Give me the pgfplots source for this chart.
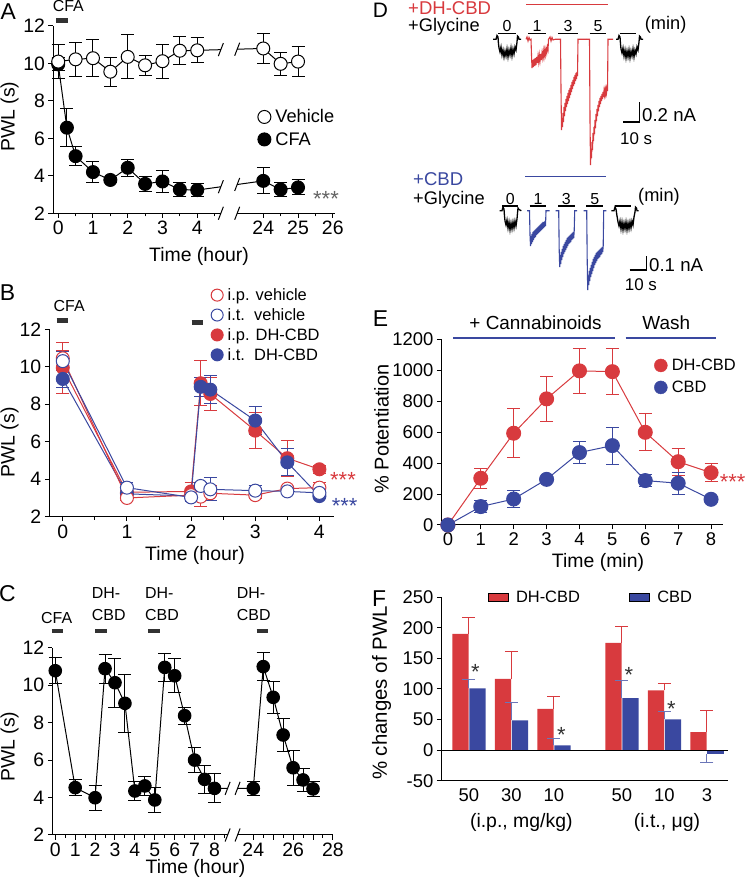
\documentclass[border=0pt]{standalone}
\usepackage{fontspec}
\setmainfont{Liberation Sans}
\usepackage{pgfplots}
\usepackage{pgfplotstable}
\pgfplotsset{compat=1.18}

\definecolor{cred}{RGB}{216,58,62}
\definecolor{cblue}{RGB}{58,72,160}
\definecolor{sgrey}{RGB}{100,100,100}
\definecolor{dgrey}{RGB}{50,50,50}
\newcommand\fs[1]{\fontsize{#1}{#1}\selectfont}

\pgfplotsset{
  panel/.style={
    scale only axis, axis lines=left, axis line style={-, line width=1bp},
    tick align=outside, major tick length=4.5bp, minor tick length=3bp,
    tick style={black, line width=1bp},
    tick label style={font=\fs{19.5}},
    /pgf/number format/assume math mode=true,
    /pgf/number format/1000 sep={},
    enlargelimits=false, clip=false,
    legend cell align=left,
    legend style={draw=none, fill=none, inner sep=0pt, row sep=5bp,
      nodes={inner sep=1.5bp},
      /tikz/every odd column/.append style={column sep=3bp}},
    legend image code/.code={\draw[##1] plot coordinates {(0bp,0bp)};},
  },
  % a plot that draws only the error bars (drawn first, so markers cover them)
  eonly/.style={forget plot, only marks, mark=none,
    error bars/.cd, y dir=both, y explicit,
    error bar style={line width=1bp, solid},
    error mark options={rotate=90, line width=1bp, mark size=#1}},
  eonly/.default=6.5bp,
  bfix/.style n args={2}{error bars/.cd, y dir=#2, y explicit,
    error bar style={#1, line width=1bp},
    error mark options={#1, rotate=90, line width=1bp, mark size=6.5bp}},
}

% ---------- panel A ----------
\pgfplotstableread{
t     y     e
0     10.10 0.90
0.5   10.22 0.90
1     10.28 1.00
1.5   9.56  0.77
2     10.35 1.18
2.5   9.90  0.55
3     10.12 0.90
3.5   10.68 0.74
4     10.70 0.66
24    10.80 0.80
24.5  9.98  0.60
25    10.10 0.80
}\Aveh
\pgfplotstableread{
t     y     e
0     9.95  0.35
0.25  6.57  1.03
0.5   5.05  0.50
1     4.20  0.56
1.5   3.78  0.10
2     4.43  0.45
2.5   3.57  0.40
3     3.70  0.58
3.5   3.27  0.38
4     3.24  0.35
24    3.73  0.70
24.5  3.27  0.40
25    3.38  0.40
}\Acfa

% ---------- panel B ----------
\pgfplotstableread{
t     y     e
0     9.95  1.35
1     3.30  0.20
2     3.35  0.50
2.15  9.12  1.20
2.3   8.55  0.90
3     6.59  0.95
3.5   5.12  0.95
4     4.53  0.20
}\Bipcbd
\pgfplotstableread{
t     y     e
0     9.35  0.45
1     3.22  0.20
2     3.10  0.20
2.15  8.93  0.50
2.3   8.78  0.75
3     7.13  0.75
3.5   4.90  0.72
4     3.10  0.10
}\Bitcbd
\pgfplotstableread{
t     y     e
0     10.45 0.40
1     3.00  0.15
2     3.15  0.30
2.15  3.07  0.55
2.3   3.25  0.40
3     3.15  0.20
3.5   3.50  0.10
4     3.55  0.25
}\Bipveh
\pgfplotstableread{
t     y     e
0     10.30 0.50
1     3.55  0.28
2     3.03  0.20
2.15  3.64  0.20
2.3   3.46  0.62
3     3.39  0.30
3.5   3.35  0.10
4     3.27  0.15
}\Bitveh

% ---------- panel C ----------
\pgfplotstableread{
t     y     e
0     10.77 0.70
1     4.53  0.42
2     3.99  0.66
2.5   10.88 0.78
3     10.13 1.30
3.5   9.03  1.55
4     4.35  0.49
4.5   4.62  0.50
5     3.87  0.65
5.5   10.95 0.76
6     10.50 0.90
6.5   8.37  0.45
7     6.00  0.66
7.5   4.97  0.76
8     4.49  0.78
24    4.49  0.36
24.5  10.99 0.76
25    9.35  0.87
25.5  7.34  0.87
26    5.59  0.93
26.5  4.94  0.60
27    4.46  0.40
}\Cdata

% ---------- panel E ----------
\pgfplotstableread{
t  y    e
0  0    0
1  302  65
2  593  160
3  815  143
4  996  147
5  991  147
6  599  120
7  409  88
8  338  60
}\Edh
\pgfplotstableread{
t  y    e
0  0    0
1  119  40
2  168  54
3  295  10
4  468  70
5  513  120
6  287  40
7  270  72
8  166  10
}\Ecbd

% ---------- panel F ----------
\pgfplotstableread{
x    y      e
0    190.3  26
1    116.7  45
2    67.6   20
3.6  175.6  27
4.6  97.6   11.5
5.6  29.4   36
}\Fdh
\pgfplotstableread{
x    y      e
0    100.9  15
1    48.5   30
2    7.6    12
3.6  85.0   29.5
4.6  50.2   13.6
}\Fcbd
\pgfplotstableread{
x    y      e
5.6  -7.1   13.6
}\Fcbdneg

\begin{document}
\begin{tikzpicture}
\useasboundingbox (0,0) rectangle (746bp,889bp);

% ================= A =================
\begin{axis}[panel, at={(53bp,675.7bp)}, anchor=south west, width=281.5bp, height=187.3bp,
  xmin=-0.15, xmax=7.95, ymin=2, ymax=12, ytick={2,4,...,12},
  xtick={0,1,2,3,4,5.9,6.9,7.9}, xticklabels={0,1,2,3,4,24,25,26},
  minor xtick={0.5,1.5,2.5,3.5,4.5,6.4,7.4},
  x axis line style={draw=none},
  legend style={font=\fs{18.3}, at={(axis cs:5.74,6.55)}, anchor=west}]
\addplot[black, eonly]
  table[x expr={ifthenelse(\thisrow{t}>20,\thisrow{t}-18.1,\thisrow{t})}, y=y, y error=e] \Acfa;
\addplot[forget plot, black, line width=1bp, mark=*, mark size=6.5bp]
  table[x expr={ifthenelse(\thisrow{t}>20,\thisrow{t}-18.1,\thisrow{t})}, y=y] \Acfa;
\addplot[black, eonly]
  table[x expr={ifthenelse(\thisrow{t}>20,\thisrow{t}-18.1,\thisrow{t})}, y=y, y error=e] \Aveh;
\addplot[forget plot, black, line width=1bp, mark=*, mark size=6.5bp, mark options={fill=white}]
  table[x expr={ifthenelse(\thisrow{t}>20,\thisrow{t}-18.1,\thisrow{t})}, y=y] \Aveh;
\fill[white] (axis cs:4.68,2.1) rectangle (axis cs:5.15,12.2);
\draw[line width=1bp] (axis cs:-0.15,2) -- (axis cs:4.68,2);
\draw[line width=1bp] (axis cs:5.15,2) -- (axis cs:7.95,2);
\draw[line width=1bp] (axis cs:4.68,2) ++(-2.5bp,-6.5bp) -- ++(5bp,13bp);
\draw[line width=1bp] (axis cs:5.15,2) ++(-2.5bp,-6.5bp) -- ++(5bp,13bp);
\draw[line width=1bp] (axis cs:4.68,10.74) ++(-2.5bp,-6.5bp) -- ++(5bp,13bp);
\draw[line width=1bp] (axis cs:5.15,10.76) ++(-2.5bp,-6.5bp) -- ++(5bp,13bp);
\draw[line width=1bp] (axis cs:4.68,3.42) ++(-2.5bp,-6.5bp) -- ++(5bp,13bp);
\draw[line width=1bp] (axis cs:5.15,3.54) ++(-2.5bp,-6.5bp) -- ++(5bp,13bp);
\addlegendimage{black, line width=1bp, mark=*, mark size=6.5bp, mark options={fill=white}}
\addlegendentry{Vehicle}
\addlegendimage{black, line width=1bp, mark=*, mark size=6.5bp}
\addlegendentry{CFA}
\end{axis}

% ================= B =================
\begin{axis}[panel, at={(49.3bp,372.3bp)}, anchor=south west, width=284.2bp, height=187.4bp,
  xmin=-0.21, xmax=4.22, ymin=2, ymax=12, ytick={2,4,...,12},
  xtick={0,1,2,3,4}, minor xtick={0.5,1.5,2.5,3.5},
  legend style={font=\fs{16.5}, at={(axis cs:2.31,12.23)}, anchor=west, row sep=3.5bp}]
\addplot[cred, eonly] table[x=t, y=y, y error=e] \Bipcbd;
\addplot[forget plot, cred, line width=1bp, mark=*, mark size=6.5bp] table[x=t, y=y] \Bipcbd;
\addplot[cblue, eonly] table[x=t, y=y, y error=e] \Bitcbd;
\addplot[forget plot, cblue, line width=1bp, mark=*, mark size=6.5bp] table[x=t, y=y] \Bitcbd;
\addplot[cred, eonly] table[x=t, y=y, y error=e] \Bipveh;
\addplot[forget plot, cred, line width=1bp, mark=*, mark size=6.5bp, mark options={fill=white}] table[x=t, y=y] \Bipveh;
\addplot[cblue, eonly] table[x=t, y=y, y error=e] \Bitveh;
\addplot[forget plot, cblue, line width=1bp, mark=*, mark size=6.5bp, mark options={fill=white}] table[x=t, y=y] \Bitveh;
\addlegendimage{cred, line width=1bp, mark=*, mark size=6bp, mark options={fill=white}}
\addlegendentry{i.p. vehicle}
\addlegendimage{cblue, line width=1bp, mark=*, mark size=6bp, mark options={fill=white}}
\addlegendentry{i.t.\ \ vehicle}
\addlegendimage{cred, line width=1bp, mark=*, mark size=6bp}
\addlegendentry{i.p. DH-CBD}
\addlegendimage{cblue, line width=1bp, mark=*, mark size=6bp}
\addlegendentry{i.t.\ \ DH-CBD}
\end{axis}

% ================= C =================
\begin{axis}[panel, at={(52.3bp,54bp)}, anchor=south west, width=280.6bp, height=187.3bp,
  xmin=-0.15, xmax=13.95, ymin=2, ymax=12, ytick={2,4,...,12},
  xtick={0,1,2,3,4,5,6,7,8,9.95,10.95,11.95,12.95,13.95},
  xticklabels={0,1,2,3,4,5,6,7,8,24,,26,,28},
  minor xtick={0.5,1.5,2.5,3.5,4.5,5.5,6.5,7.5,8.5,10.45,11.45,12.45,13.45},
  x axis line style={draw=none}]
\addplot[black, eonly]
  table[x expr={ifthenelse(\thisrow{t}>20,\thisrow{t}-14.05,\thisrow{t})}, y=y, y error=e] \Cdata;
\addplot[black, line width=1bp, mark=*, mark size=6.3bp]
  table[x expr={ifthenelse(\thisrow{t}>20,\thisrow{t}-14.05,\thisrow{t})}, y=y] \Cdata;
\fill[white] (axis cs:8.66,2.1) rectangle (axis cs:9.16,12.2);
\draw[line width=1bp] (axis cs:-0.15,2) -- (axis cs:8.66,2);
\draw[line width=1bp] (axis cs:9.16,2) -- (axis cs:13.95,2);
\draw[line width=1bp] (axis cs:8.66,2) ++(-2.5bp,-6.5bp) -- ++(5bp,13bp);
\draw[line width=1bp] (axis cs:9.16,2) ++(-2.5bp,-6.5bp) -- ++(5bp,13bp);
\draw[line width=1bp] (axis cs:8.66,4.49) ++(-2.5bp,-6.5bp) -- ++(5bp,13bp);
\draw[line width=1bp] (axis cs:9.16,4.49) ++(-2.5bp,-6.5bp) -- ++(5bp,13bp);
\end{axis}

% ================= E =================
\begin{axis}[panel, at={(441.3bp,364bp)}, anchor=south west, width=281.6bp, height=185.7bp,
  xmin=-0.2, xmax=8.36, ymin=0, ymax=1200, ytick={0,200,...,1200}, xtick={0,1,...,8},
  tick label style={font=\fs{18.5}},
  legend style={font=\fs{16.5}, at={(axis cs:6.27,960)}, anchor=west, row sep=6bp}]
\addplot[cred, eonly] table[x=t, y=y, y error=e] \Edh;
\addplot[forget plot, cred, line width=1bp, mark=*, mark size=7bp] table[x=t, y=y] \Edh;
\addplot[cblue, eonly] table[x=t, y=y, y error=e] \Ecbd;
\addplot[forget plot, cblue, line width=1bp, mark=*, mark size=7bp] table[x=t, y=y] \Ecbd;
\addlegendimage{cred, mark=*, mark size=6.5bp}
\addlegendentry{DH-CBD}
\addlegendimage{cblue, mark=*, mark size=6.5bp}
\addlegendentry{CBD}
\end{axis}

% ================= F =================
\begin{axis}[panel, at={(441.3bp,108.3bp)}, anchor=south west, width=286.9bp, height=183.4bp,
  xmin=-0.65, xmax=6.1, ymin=-50, ymax=250,
  ytick={-50,0,50,100,150,200,250}, yticklabels={-50,0,50,100,150,200,250},
  xtick={0,1,2,3.6,4.6,5.6}, xticklabels={50,30,10,50,10,3},
  major x tick style={draw=none},
  tick label style={font=\fs{18.5}},
  legend columns=2,
  legend image code/.code={\fill[#1] (0bp,-4.2bp) rectangle (20bp,4.2bp);},
  legend style={font=\fs{16.5}, at={(axis cs:0.447,249.7)}, anchor=west,
    /tikz/every odd column/.append style={column sep=6bp},
    /tikz/every even column/.append style={column sep=48bp}}]
\addplot[forget plot, ybar, bar width=0.38, bar shift=-0.2, fill=cred, draw=none,
  bfix={cred}{plus}] table[x=x, y=y, y error=e] \Fdh;
\addplot[forget plot, ybar, bar width=0.38, bar shift=0.2, fill=cblue, draw=none,
  bfix={cblue!75}{plus}] table[x=x, y=y, y error=e] \Fcbd;
\addplot[forget plot, ybar, bar width=0.38, bar shift=0.2, fill=cblue, draw=none,
  bfix={cblue!75}{minus}] table[x=x, y=y, y error=e] \Fcbdneg;
\draw[line width=1bp] (axis cs:-0.65,0) -- (axis cs:6.1,0);
\addlegendimage{fill=cred}
\addlegendentry{DH-CBD}
\addlegendimage{fill=cblue}
\addlegendentry{CBD}
\end{axis}

% ================= overlay: D traces and all annotations (image pixel coords) =================
\begin{axis}[at={(0bp,0bp)}, anchor=south west, scale only axis, width=746bp, height=889bp,
  xmin=0, xmax=746, ymin=0, ymax=889, y dir=reverse, hide axis, clip=false]
% D top row
\addplot[black, line width=1.3bp] coordinates {(493,39.3)(496,39.3)(497,35.5)(498,37)(498.5,44)(499,48)(500,52)(501,47)(502,55)(503,50)(504,57)(505,51)(506,56)(507,49)(508,57)(509,50)(510,55)(511,48)(512,56)(513,49)(514,54)(515,47)(516,50)(517,42)(517.5,36)(518.5,37)(519,39.3)(521,39.3)};
\addplot[cred, line width=1.1bp] coordinates {(526,39.3)(527,37)(528,41)(529,37.5)(530,40)(531,39.3)(531.5,55)(532,68)(532.7,60)(533.3,67)(534,59)(534.7,66)(535.3,58)(536,65)(536.7,57)(537.3,63)(538,56)(538.7,62)(539.3,55)(540,61)(540.7,54)(541.3,60)(542,53)(542.7,58)(543.3,51)(544,57)(544.7,50)(545.3,55)(546,49)(546.7,53)(547.3,47)(548,50)(548.5,39.3)(550,37)(551,41)(552,37.5)(553,40)(555,39.3)};
\addplot[cred, line width=1.1bp] coordinates {(555,39.3)(560.5,39.3)(561,90)(561.5,130)(562,118)(562.5,127)(563,113)(563.5,122)(564,107)(564.5,116)(565,103)(565.5,111)(566,99)(566.5,107)(567,96)(567.5,104)(568,93)(568.5,101)(569,90)(569.5,98)(570,88)(570.5,95)(571,85)(571.5,92)(572,82)(572.5,89)(573,80)(573.5,86)(574,77)(574.5,84)(575,75)(575.5,81)(576,73)(576.5,79)(577,72)(577.5,76)(578,39.3)(586,39.3)};
\addplot[cred, line width=1.1bp] coordinates {(586,39.3)(589.5,39.3)(590,120)(590.5,165)(591,150)(591.5,158)(592,142)(592.5,150)(593,133)(593.5,141)(594,127)(594.5,134)(595,120)(595.5,128)(596,114)(596.5,121)(597,109)(597.5,116)(598,105)(598.5,111)(599,101)(599.5,107)(600,98)(600.5,104)(601,96)(601.5,101)(602,94)(602.5,99)(603,92)(603.5,97)(604,91)(604.5,95)(605,90)(605.5,94)(606,89)(606.5,93)(607,88)(607.5,91)(608,39.3)(613,39.3)};
\addplot[black, line width=1.3bp] coordinates {(616,39.3)(618,39.3)(619,35.5)(620,37)(620.5,44)(621,49)(622,53)(623,48)(624,56)(625,50)(626,58)(627,51)(628,57)(629,50)(630,58)(631,51)(632,56)(633,49)(634,57)(635,50)(636,54)(637,47)(638,50)(639,42)(639.5,36)(640.5,37)(641,39.3)(643,39.3)};
% D bottom row
\addplot[black, line width=1.3bp] coordinates {(499.7,210.7)(502,210.7)(503,207)(504,209)(504.5,216)(505,221)(506,225)(507,220)(508,228)(509,222)(510,230)(511,223)(512,229)(513,222)(514,228)(515,221)(516,226)(517,219)(517.5,213)(518,208)(519,209.5)(521.3,210.7)};
\addplot[cblue, line width=1.1bp] coordinates {(527,210.7)(529.5,210.7)(530,235)(530.5,246)(531,236)(531.5,244)(532,234)(532.5,242)(533,232)(533.5,240)(534,231)(534.5,238)(535,230)(535.5,237)(536,229)(536.5,235)(537,228)(537.5,234)(538,227)(538.5,233)(539,226)(539.5,232)(540,225)(540.5,231)(541,224)(541.5,230)(542,223)(542.5,229)(543,222)(543.5,228)(544,222)(544.5,227)(545,221)(545.5,226)(546,210.7)(549.7,210.7)};
\addplot[cblue, line width=1.1bp] coordinates {(555.7,210.7)(558.7,210.7)(559.2,250)(559.7,267)(560.2,255)(560.7,264)(561.2,252)(561.7,260)(562.2,249)(562.7,257)(563.2,246)(563.7,254)(564.2,244)(564.7,252)(565.2,242)(565.7,250)(566.2,240)(566.7,248)(567.2,238)(567.7,246)(568.2,237)(568.7,244)(569.2,236)(569.7,243)(570.2,235)(570.7,242)(571.2,234)(571.7,240)(572.2,233)(572.7,239)(573.2,232)(573.7,238)(574.2,231)(574.7,210.7)(577,210.7)};
\addplot[cblue, line width=1.1bp] coordinates {(583.7,210.7)(586.7,210.7)(587.2,260)(587.7,290)(588.2,276)(588.7,285)(589.2,271)(589.7,281)(590.2,268)(590.7,277)(591.2,265)(591.7,274)(592.2,262)(592.7,271)(593.2,259)(593.7,268)(594.2,257)(594.7,265)(595.2,255)(595.7,263)(596.2,253)(596.7,261)(597.2,252)(597.7,259)(598.2,251)(598.7,258)(599.2,250)(599.7,257)(600.2,249)(600.7,255)(601.2,248)(601.7,254)(602.2,247)(602.7,252)(603.2,246)(603.7,210.7)(606.3,210.7)};
\addplot[black, line width=1.3bp] coordinates {(611.3,210.7)(614,210.7)(615,207)(616,209)(617,216)(618,222)(619,226)(620,221)(621,229)(622,222)(623,230)(624,223)(625,229)(626,222)(627,230)(628,223)(629,229)(630,222)(631,228)(632,221)(633,225)(634,217)(635,212)(635.5,207)(636.5,208)(637,210.7)(638.5,210.7)};
% D bars, scale bars, texts
\draw[cred, line width=1.5bp] (axis cs:526.3,4.7) -- (axis cs:608,4.7);
\draw[cblue, line width=1.5bp] (axis cs:525,176.7) -- (axis cs:606,176.7);
\draw[black, line width=1.3bp] (axis cs:498,33.3) -- (axis cs:515.7,33.3) (axis cs:528,33.3) -- (axis cs:546.3,33.3) (axis cs:558,33.3) -- (axis cs:578,33.3) (axis cs:589.7,33.3) -- (axis cs:606.3,33.3) (axis cs:619.7,33.3) -- (axis cs:636.3,33.3);
\draw[black, line width=1.3bp] (axis cs:502.3,206) -- (axis cs:518,206) (axis cs:529.7,206) -- (axis cs:546.3,206) (axis cs:558,206) -- (axis cs:574.7,206) (axis cs:586.3,206) -- (axis cs:603,206) (axis cs:614.7,206) -- (axis cs:631.3,206);
\draw[black, line width=1.5bp] (axis cs:623,122) -- (axis cs:639.5,122) -- (axis cs:639.5,101.7);
\draw[black, line width=1.5bp] (axis cs:629.7,270) -- (axis cs:646.3,270) -- (axis cs:646.3,256);
\node[font=\fs{21}] at (axis cs:380.5,10.8) {D};
\node[cred, font=\fs{18.6}, anchor=base west, inner sep=0] at (axis cs:408,15) {+DH-CBD};
\node[font=\fs{18.3}, anchor=base west, inner sep=0] at (axis cs:408,32) {+Glycine};
\node[font=\fs{16}, anchor=base, inner sep=0] at (axis cs:507,31.5) {0};
\node[font=\fs{16}, anchor=base, inner sep=0] at (axis cs:537,31.5) {1};
\node[font=\fs{16}, anchor=base, inner sep=0] at (axis cs:568,31.5) {3};
\node[font=\fs{16}, anchor=base, inner sep=0] at (axis cs:598,31.5) {5};
\node[font=\fs{18.3}, anchor=base west, inner sep=0] at (axis cs:644.7,29.5) {(min)};
\node[font=\fs{18.7}, anchor=base west, inner sep=0] at (axis cs:642,122) {0.2 nA};
\node[font=\fs{17}, anchor=base west, inner sep=0] at (axis cs:620,145) {10 s};
\node[cblue, font=\fs{18.6}, anchor=base west, inner sep=0] at (axis cs:413,185) {+CBD};
\node[font=\fs{18.3}, anchor=base west, inner sep=0] at (axis cs:413,204) {+Glycine};
\node[font=\fs{16}, anchor=base, inner sep=0] at (axis cs:510.2,204) {0};
\node[font=\fs{16}, anchor=base, inner sep=0] at (axis cs:538,204) {1};
\node[font=\fs{16}, anchor=base, inner sep=0] at (axis cs:566.3,204) {3};
\node[font=\fs{16}, anchor=base, inner sep=0] at (axis cs:594.7,204) {5};
\node[font=\fs{18.3}, anchor=base west, inner sep=0] at (axis cs:638,201) {(min)};
\node[font=\fs{18.7}, anchor=base west, inner sep=0] at (axis cs:649,271.7) {0.1 nA};
\node[font=\fs{17}, anchor=base west, inner sep=0] at (axis cs:624.7,290) {10 s};
% A
\node[font=\fs{23}] at (axis cs:8.3,11.7) {A};
\node[font=\fs{16}, anchor=base, inner sep=0] at (axis cs:68.3,11.7) {CFA};
\draw[dgrey, line width=5bp] (axis cs:56,20.8) -- (axis cs:67.7,20.8);
\node[sgrey, font=\fs{22}, anchor=base west, inner sep=0] at (axis cs:313,206.5) {***};
\node[rotate=90, font=\fs{19.5}] at (axis cs:9.5,116.7) {PWL (s)};
\node[font=\fs{19.5}] at (axis cs:199,256.7) {Time (hour)};
% B
\node[font=\fs{23}] at (axis cs:7.5,293) {B};
\node[font=\fs{16}, anchor=base, inner sep=0] at (axis cs:69.2,311.7) {CFA};
\draw[dgrey, line width=5bp] (axis cs:56.7,320.8) -- (axis cs:68.3,320.8);
\draw[dgrey, line width=5bp] (axis cs:191.7,322.9) -- (axis cs:203.3,322.9);
\node[cred, font=\fs{22}, anchor=base west, inner sep=0] at (axis cs:330,487.8) {***};
\node[cblue, font=\fs{22}, anchor=base west, inner sep=0] at (axis cs:331.7,513.5) {***};
\node[rotate=90, font=\fs{19.5}] at (axis cs:9.5,442.5) {PWL (s)};
\node[font=\fs{19.5}] at (axis cs:195,555) {Time (hour)};
% C
\node[font=\fs{23}] at (axis cs:7.5,594) {C};
\node[font=\fs{16}, anchor=base, inner sep=0] at (axis cs:56.7,623.3) {CFA};
\node[font=\fs{16}, anchor=base west, inner sep=0] at (axis cs:91.7,598.3) {DH-};
\node[font=\fs{16}, anchor=base west, inner sep=0] at (axis cs:91.7,620) {CBD};
\node[font=\fs{16}, anchor=base west, inner sep=0] at (axis cs:145,598.3) {DH-};
\node[font=\fs{16}, anchor=base west, inner sep=0] at (axis cs:145,620) {CBD};
\node[font=\fs{16}, anchor=base west, inner sep=0] at (axis cs:236.7,598.3) {DH-};
\node[font=\fs{16}, anchor=base west, inner sep=0] at (axis cs:236.7,620) {CBD};
\draw[dgrey, line width=4.5bp] (axis cs:51.7,631.2) -- (axis cs:63.3,631.2) (axis cs:95,631.2) -- (axis cs:106.7,631.2) (axis cs:148.3,631.2) -- (axis cs:160,631.2) (axis cs:256.7,631.2) -- (axis cs:268.3,631.2);
\node[rotate=90, font=\fs{19.5}] at (axis cs:9.5,746.7) {PWL (s)};
\node[font=\fs{19.5}] at (axis cs:195.5,868) {Time (hour)};
% E
\node[font=\fs{23}] at (axis cs:380.5,319) {E};
\node[font=\fs{19}, anchor=base, inner sep=0] at (axis cs:535.5,329.3) {+ Cannabinoids};
\node[font=\fs{19}, anchor=base, inner sep=0] at (axis cs:666.3,329.3) {Wash};
\draw[cblue, line width=2.2bp] (axis cs:453,338.3) -- (axis cs:614.7,338.3) (axis cs:625.7,338.3) -- (axis cs:716.3,338.3);
\node[cred, font=\fs{22}, anchor=base west, inner sep=0] at (axis cs:719.7,489.5) {***};
\node[rotate=90, font=\fs{20}] at (axis cs:381.5,429) {\% Potentiation};
\node[font=\fs{19.5}] at (axis cs:598,562.5) {Time (min)};
% F
\node[font=\fs{23}] at (axis cs:379,599) {F};
\node[rotate=90, font=\fs{20.5}] at (axis cs:381.5,693) {\% changes of PWL};
\node[font=\fs{19.5}] at (axis cs:521.3,822.5) {(i.p., mg/kg)};
\node[font=\fs{19.5}] at (axis cs:667,822.5) {(i.t., μg)};
\node[dgrey, font=\fs{22}, anchor=base, inner sep=0] at (axis cs:475.3,679.3) {*};
\node[dgrey, font=\fs{22}, anchor=base, inner sep=0] at (axis cs:561.3,742.6) {*};
\node[dgrey, font=\fs{22}, anchor=base, inner sep=0] at (axis cs:629,682) {*};
\node[dgrey, font=\fs{22}, anchor=base, inner sep=0] at (axis cs:671.3,716) {*};
\end{axis}
\end{tikzpicture}
\end{document}
